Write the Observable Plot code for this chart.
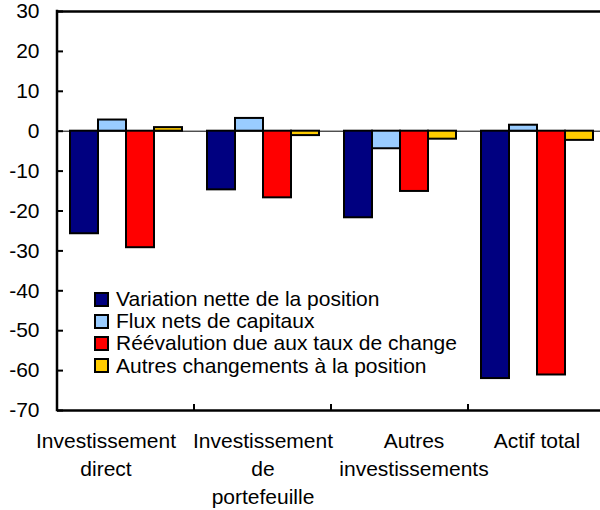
<!DOCTYPE html>
<html><head><meta charset="utf-8">
<script src="https://cdn.jsdelivr.net/npm/d3@7"></script>
<script src="https://cdn.jsdelivr.net/npm/@observablehq/plot@0.6"></script>
<style>
body{margin:0;background:#fff;}
#wrap{position:relative;width:600px;height:510px;overflow:hidden;font-family:"Liberation Sans",Arial,sans-serif;background:#fff;}
#chart svg{display:block;max-width:none !important;width:610px !important;height:510px !important;}
#legend{position:absolute;left:94px;top:288px;font-size:21px;color:#000;}
.row{display:flex;align-items:center;height:22.2px;white-space:nowrap;}
.sw{width:11px;height:11px;border:2px solid #000;margin-right:7px;flex:none;}
</style></head><body>
<div id="wrap"><div id="chart"></div><div id="legend"></div></div>
<script>
const categories = ["Investissement direct", "Investissement de portefeuille", "Autres investissements", "Actif total"];
const categoryLabels = ["Investissement\ndirect", "Investissement\nde\nportefeuille", "Autres\ninvestissements", "Actif total"];
const seriesNames = ["Variation nette de la position", "Flux nets de capitaux", "Réévalution due aux taux de change", "Autres changements à la position"];
const seriesColors = ["#000080", "#99ccff", "#ff0000", "#ffcc00"];
const variationNette = [-25.7, -14.7, -21.7, -62.0];
const fluxNets = [2.8, 3.2, -4.4, 1.5];
const reevaluation = [-29.2, -16.7, -15.1, -61.1];
const autresChangements = [0.9, -1.1, -2.0, -2.3];
const yTicks = [-70, -60, -50, -40, -30, -20, -10, 0, 10, 20, 30];

const seriesValues = [variationNette, fluxNets, reevaluation, autresChangements];
const rows = [];
categories.forEach((c, i) => seriesNames.forEach((s, j) => rows.push({category: c, series: s, value: seriesValues[j][i]})));
const labelRows = categories.map((c, i) => ({category: c, label: categoryLabels[i]}));

// label nudges (style only), as in the original's category-label placement
const labelNudge = [-20, 0, 14, 0];
const labelMarks = labelRows.map((r, i) =>
  Plot.text([r], {fx: "category", text: "label", frameAnchor: "bottom", lineAnchor: "top", dy: 17.5, dx: labelNudge[i], lineHeight: 1.33, fontSize: 21}));

const chart = Plot.plot({
  width: 610, height: 510,
  marginLeft: 56, marginRight: 5, marginTop: 11, marginBottom: 100,
  style: {fontFamily: "'Liberation Sans', Arial, sans-serif", fontSize: "21px", color: "#000", background: "#fff", overflow: "visible"},
  fx: {domain: categories, padding: 0, axis: null},
  x: {domain: seriesNames, paddingInner: 0, paddingOuter: 0.39, axis: null},
  y: {domain: [-70, 30], label: null},
  color: {domain: seriesNames, range: seriesColors},
  marks: [
    Plot.ruleY([0], {stroke: "#000", strokeWidth: 1}),
    Plot.barY(rows, {fx: "category", x: "series", y: "value", fill: "series", stroke: "#000", strokeWidth: 2}),
    Plot.ruleY([30, -70], {stroke: "#000", strokeWidth: 2.5}),
    Plot.axisY({ticks: yTicks, tickFormat: d => String(d), tickSize: -6, tickPadding: 24, strokeWidth: 2, label: null, fontSize: 21}),
    ...labelMarks
  ]
});
document.getElementById("chart").appendChild(chart);

// left axis line and category boundary ticks, placed through the plot's own scales
const fxS = chart.scale("fx"), yS = chart.scale("y");
const svg = d3.select(chart);
const x0 = fxS.apply(categories[0]);
svg.append("line").attr("x1", x0).attr("x2", x0).attr("y1", yS.apply(30) - 1.25).attr("y2", yS.apply(-70) + 1.25)
  .attr("stroke", "#000").attr("stroke-width", 2.5);
categories.slice(1).forEach(c => {
  const xc = fxS.apply(c);
  svg.append("line").attr("x1", xc).attr("x2", xc).attr("y1", yS.apply(-70)).attr("y2", yS.apply(-70) - 6)
    .attr("stroke", "#000").attr("stroke-width", 2);
});

const legend = d3.select("#legend");
seriesNames.forEach((s, i) => {
  const r = legend.append("div").attr("class", "row");
  r.append("div").attr("class", "sw").style("background", seriesColors[i]);
  r.append("span").text(s);
});
</script></body></html>
